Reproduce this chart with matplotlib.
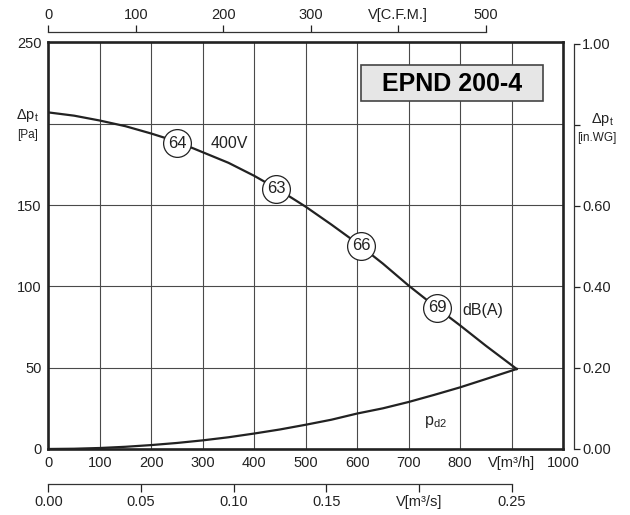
import matplotlib
matplotlib.use("Agg")
import matplotlib.pyplot as plt
from matplotlib.patches import Rectangle

plt.rcParams['font.family'] = ['Liberation Sans', 'DejaVu Sans']
plt.rcParams['mathtext.default'] = 'regular'

# curve data (flow in m3/h, pressure in Pa)
flow_m3h = [0, 50, 100, 150, 200, 250, 300, 350, 400, 450, 500, 550,
            600, 650, 700, 750, 800, 850, 910]
pressure_pa = [207, 205, 202, 198.5, 194, 189, 182.5, 176, 168, 159, 149, 138,
               126.5, 114, 100.5, 88, 76, 63.5, 49.2]
pd2_pa = [0, 0.15, 0.6, 1.35, 2.4, 3.7, 5.3, 7.2, 9.5, 12, 14.9, 18,
          21.8, 25, 28.9, 33.3, 37.9, 43, 49.2]

# sound level markers on the curve
db_flow = [250, 443, 608, 756]
db_pressure = [188, 160, 125, 87]
db_labels = ['64', '63', '66', '69']

# axis ticks
x_ticks = list(range(0, 1001, 100))
x_labels = [str(v) for v in x_ticks]
x_labels[9] = 'V[m³/h]'
y_ticks = list(range(0, 251, 50))
y_labels = [str(v) for v in y_ticks]
y_labels[4] = ''
cfm_ticks = [0, 100, 200, 300, 400, 500]
cfm_labels = ['0', '100', '200', '300', 'V[C.F.M.]', '500']
ms_ticks = [0, 0.05, 0.10, 0.15, 0.20, 0.25]
ms_labels = ['0.00', '0.05', '0.10', '0.15', 'V[m³/s]', '0.25']
wg_ticks = [0, 0.2, 0.4, 0.6, 0.8, 1.0]
wg_labels = ['0.00', '0.20', '0.40', '0.60', '', '1.00']

CFM = 1.699      # m3/h per cfm
INWG = 249.09    # Pa per in.WG
dark = '#222222'

fig = plt.figure(figsize=(6.3, 5.15), dpi=100)
ax = fig.add_axes([0.0767, 0.1282, 0.8170, 0.7893])
ax.set_xlim(0, 1000)
ax.set_ylim(0, 250)
ax.set_xticks(x_ticks)
ax.set_xticklabels(x_labels)
ax.set_yticks(y_ticks)
ax.set_yticklabels(y_labels)
ax.grid(True, color='#4a4a4a', lw=0.8)
ax.set_axisbelow(True)
ax.tick_params(length=0, labelsize=10.5, pad=5, colors=dark)
for s in ax.spines.values():
    s.set_linewidth(1.9)
    s.set_color(dark)
    s.set_zorder(5)

ax.plot(flow_m3h, pressure_pa, color=dark, lw=1.6, zorder=3)
ax.plot(flow_m3h, pd2_pa, color=dark, lw=1.6, zorder=3)
ax.plot(db_flow, db_pressure, 'o', ms=20, mfc='white', mec=dark, mew=0.9, zorder=4)
for v, p, t in zip(db_flow, db_pressure, db_labels):
    ax.text(v, p, t, ha='center', va='center', fontsize=12, color=dark, zorder=5)

ax.text(316, 187.6, '400V', ha='left', va='center', fontsize=11.5, color=dark)
ax.text(804, 85, 'dB(A)', ha='left', va='center', fontsize=11.5, color=dark)
ax.text(730, 16.5, r'p$_{d2}$', ha='left', va='center', fontsize=11.5, color=dark)

# model name box
ax.add_patch(Rectangle((0.6075, 0.8568), 0.3531, 0.0878, transform=ax.transAxes,
                       facecolor='#e6e6e6', edgecolor='#444444', lw=1.2, zorder=4))
ax.text(0.7841, 0.898, 'EPND 200-4', transform=ax.transAxes, ha='center', va='center',
        fontsize=18, fontweight='bold', color='black', zorder=5)

def only_spine(a, name, offset, lo, hi):
    for k, s in a.spines.items():
        s.set_visible(k == name)
    sp = a.spines[name]
    sp.set_position(('outward', offset))
    sp.set_bounds(lo, hi)
    sp.set_linewidth(0.9)
    sp.set_color('#333333')

# top axis in CFM
cfm = ax.twiny()
cfm.set_xlim(0, 1000 / CFM)
cfm.set_xticks(cfm_ticks)
cfm.set_xticklabels(cfm_labels)
only_spine(cfm, 'top', 7.6, 0, 500)
cfm.tick_params(axis='x', direction='out', length=5, width=0.9, pad=2,
                labelsize=10.5, colors=dark)

# bottom axis in m3/s
msx = ax.twiny()
msx.xaxis.set_ticks_position('bottom')
msx.xaxis.set_label_position('bottom')
msx.set_xlim(0, 1000 / 3600)
msx.set_xticks(ms_ticks)
msx.set_xticklabels(ms_labels)
only_spine(msx, 'bottom', 25.2, 0, 0.25)
msx.tick_params(axis='x', direction='out', length=5.5, width=0.9, pad=2.5,
                labelsize=10.5, colors=dark)

# right axis in in.WG
wg = ax.twinx()
wg.set_ylim(0, 250 / INWG)
wg.set_yticks(wg_ticks)
wg.set_yticklabels(wg_labels)
only_spine(wg, 'right', 7.9, 0, 1.0)
wg.tick_params(axis='y', direction='out', length=4.3, width=0.9, pad=1.5,
               labelsize=10.5, colors=dark)

# pressure axis names
fig.text(27.5 / 630, 1 - 115 / 515, r'Δp$_t$', ha='center', va='center', fontsize=10.5, color=dark)
fig.text(27.5 / 630, 1 - 135.5 / 515, '[Pa]', ha='center', va='center', fontsize=8.5, color=dark)
fig.text(602 / 630, 1 - 119.5 / 515, r'Δp$_t$', ha='center', va='center', fontsize=10.5, color=dark)
fig.text(597 / 630, 1 - 138 / 515, '[in.WG]', ha='center', va='center', fontsize=8.5, color=dark)

fig.savefig('out.png', dpi=100)
